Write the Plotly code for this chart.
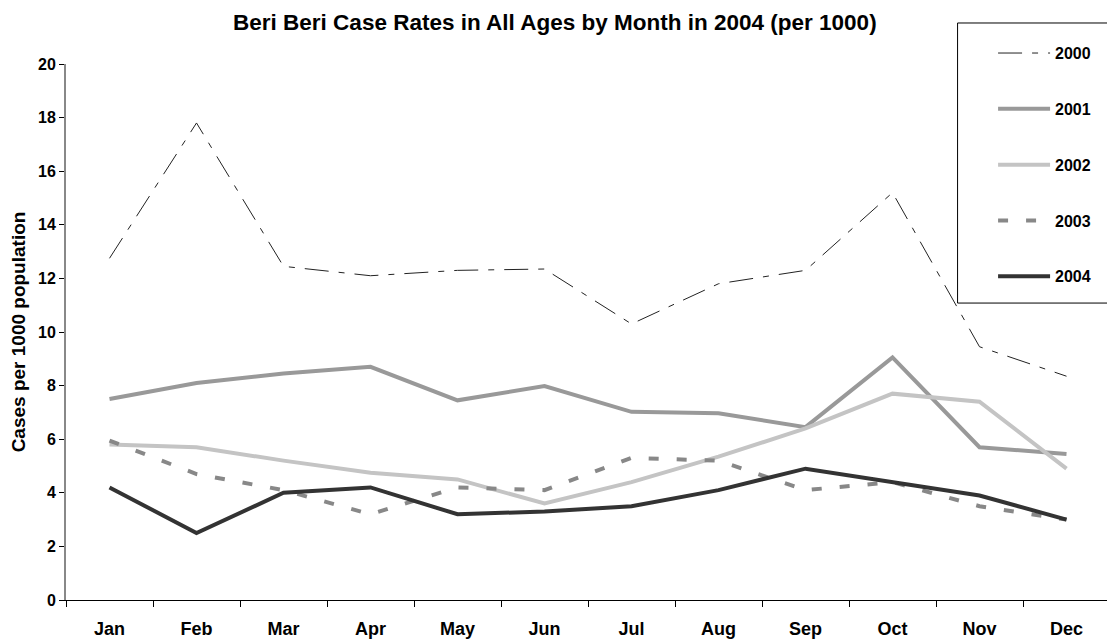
import plotly.graph_objects as go

months = ['Jan', 'Feb', 'Mar', 'Apr', 'May', 'Jun',
          'Jul', 'Aug', 'Sep', 'Oct', 'Nov', 'Dec']

rates_2000 = [12.75, 17.8, 12.45, 12.1, 12.3, 12.35, 10.3, 11.8, 12.3, 15.2, 9.45, 8.35]
rates_2001 = [7.5, 8.1, 8.45, 8.7, 7.45, 7.98, 7.02, 6.97, 6.45, 9.05, 5.7, 5.45]
rates_2002 = [5.8, 5.7, 5.2, 4.75, 4.5, 3.6, 4.4, 5.35, 6.4, 7.7, 7.4, 4.9]
rates_2003 = [5.95, 4.7, 4.1, 3.2, 4.2, 4.1, 5.3, 5.2, 4.1, 4.4, 3.5, 3.0]
rates_2004 = [4.2, 2.5, 4.0, 4.2, 3.2, 3.3, 3.5, 4.1, 4.9, 4.4, 3.9, 3.0]

series = [
    ('2000', rates_2000, dict(color='#222222', width=1, dash='24px,10px,6px,10px')),
    ('2001', rates_2001, dict(color='#999999', width=4)),
    ('2002', rates_2002, dict(color='#c4c4c4', width=4)),
    ('2003', rates_2003, dict(color='#888888', width=4, dash='10px,18px')),
    ('2004', rates_2004, dict(color='#333333', width=4)),
]

fig = go.Figure()
for name, vals, line in series:
    fig.add_trace(go.Scatter(
        x=months, y=vals, name=name, mode='lines', line=line,
        legendgroup=name,
    ))

# legend frame (drawn as a shape so the entries can sit inset like the original)
fig.add_shape(
    type='rect', xref='paper', yref='paper',
    x0=0.854, x1=1.03, y0=0.554, y1=1.0765,
    line=dict(color='black', width=1), fillcolor='white', layer='above',
)

# page body adds an 8px offset, so the figure is sized a little smaller
fig.update_layout(
    width=1107,
    height=635,
    plot_bgcolor='white',
    paper_bgcolor='white',
    font=dict(family='Liberation Sans, Arial, sans-serif', color='black'),
    margin=dict(l=58, r=5, t=56, b=43, autoexpand=False),
    title=dict(
        text='<b>Beri Beri Case Rates in All Ages by Month in 2004 (per 1000)</b>',
        x=0.494, xanchor='center', y=0.978, yanchor='middle',
        font=dict(size=22.5),
    ),
    legend=dict(
        x=0.888, xanchor='left', y=1.052, yanchor='top',
        bgcolor='rgba(0,0,0,0)', borderwidth=0,
        font=dict(size=16, weight='bold'),
        tracegroupgap=32,
        itemwidth=52,
    ),
    xaxis=dict(
        showline=True, linecolor='black', linewidth=1,
        ticks='outside', tickson='boundaries', ticklen=6, tickcolor='black',
        tickfont=dict(size=18, weight='bold'),
        ticklabelstandoff=12,
        showgrid=False, range=[-0.5, 11.5],
    ),
    yaxis=dict(
        range=[0, 20], dtick=2,
        showline=True, linecolor='#888888', linewidth=2,
        ticks='outside', ticklen=5, tickcolor='black',
        tickfont=dict(size=16, weight='bold'),
        showgrid=False, zeroline=False,
        title=dict(text='<b>Cases per 1000 population</b>', font=dict(size=19), standoff=10),
    ),
)

fig.write_html("out.html")
